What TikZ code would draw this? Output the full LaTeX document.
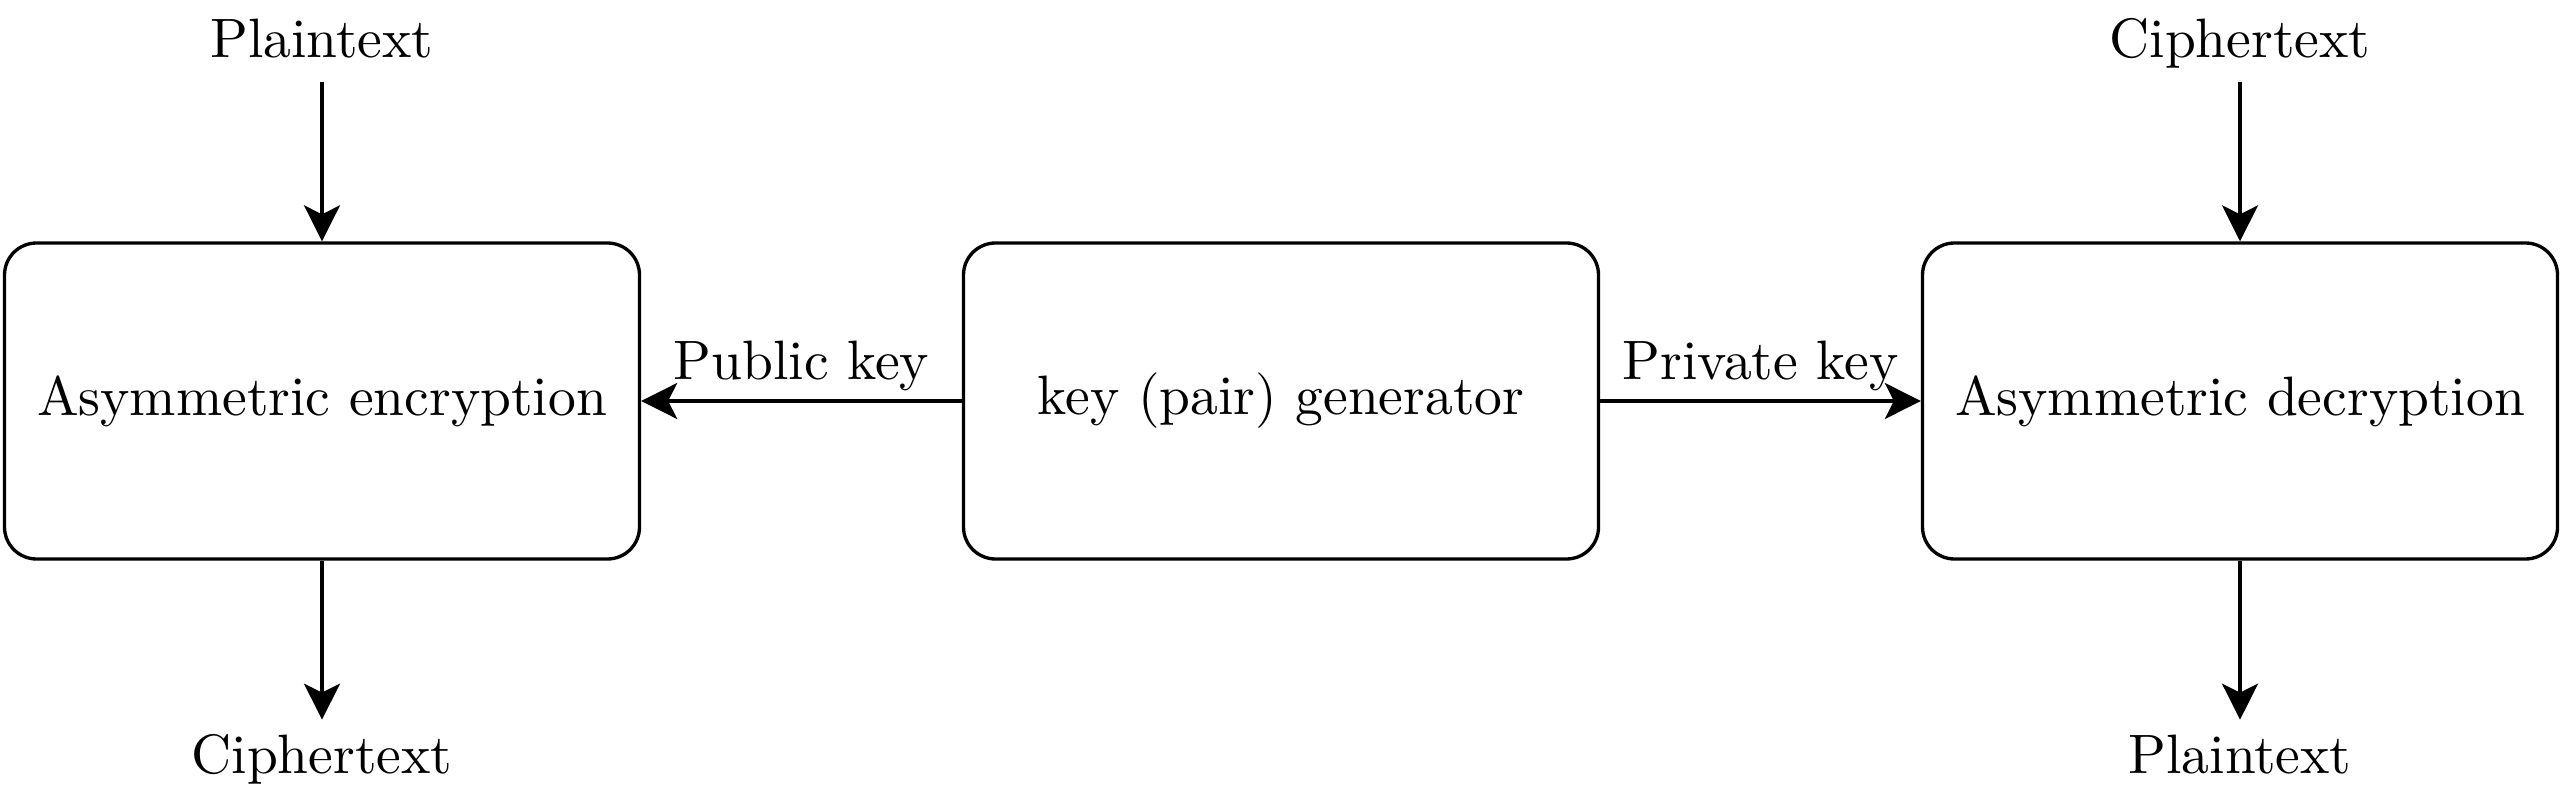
\documentclass[tikz,border=0pt]{standalone}
\usepackage{fontspec}
\setmainfont{lmroman10-regular.otf}
\usetikzlibrary{arrows.meta}
\tikzset{
    block/.style={draw, line width=0.95pt, rounded corners=0.32cm, minimum width=6.35cm, minimum height=3.16cm, inner sep=0pt},
    txt/.style={inner sep=4pt, text height=11pt, text depth=3pt},
    flow/.style={line width=0.95pt, -{Stealth[length=0.36cm, width=0.36cm, inset=0.09cm]}}
}
\begin{document}
\begin{tikzpicture}[font=\fontsize{15.8}{19}\selectfont]
\useasboundingbox (0,0) rectangle (25.64,-8);

\node[block] (enc) at (3.22,-4.01) {Asymmetric encryption};
\node[block] (gen) at (12.81,-4.01) {key (pair) generator};
\node[block] (dec) at (22.40,-4.01) {Asymmetric decryption};

% inputs on top, outputs below
\foreach \n/\x/\intext/\outtext in {enc/3.22/Plaintext/Ciphertext, dec/22.40/Ciphertext/Plaintext}
{
    \node[txt] (\n-in) at (\x,-0.43) {\intext};
    \node[txt] (\n-out) at (\x,-7.59) {\outtext};
    \draw[flow] (\n-in) -- (\n);
    \draw[flow] (\n) -- (\n-out);
}

\draw[flow] (gen) -- node[above=-1.4pt, txt] (pub) {Public key} (enc);
\draw[flow] (gen) -- node[above=-1.4pt, txt] (priv) {Private key} (dec);
\end{tikzpicture}
\end{document}
